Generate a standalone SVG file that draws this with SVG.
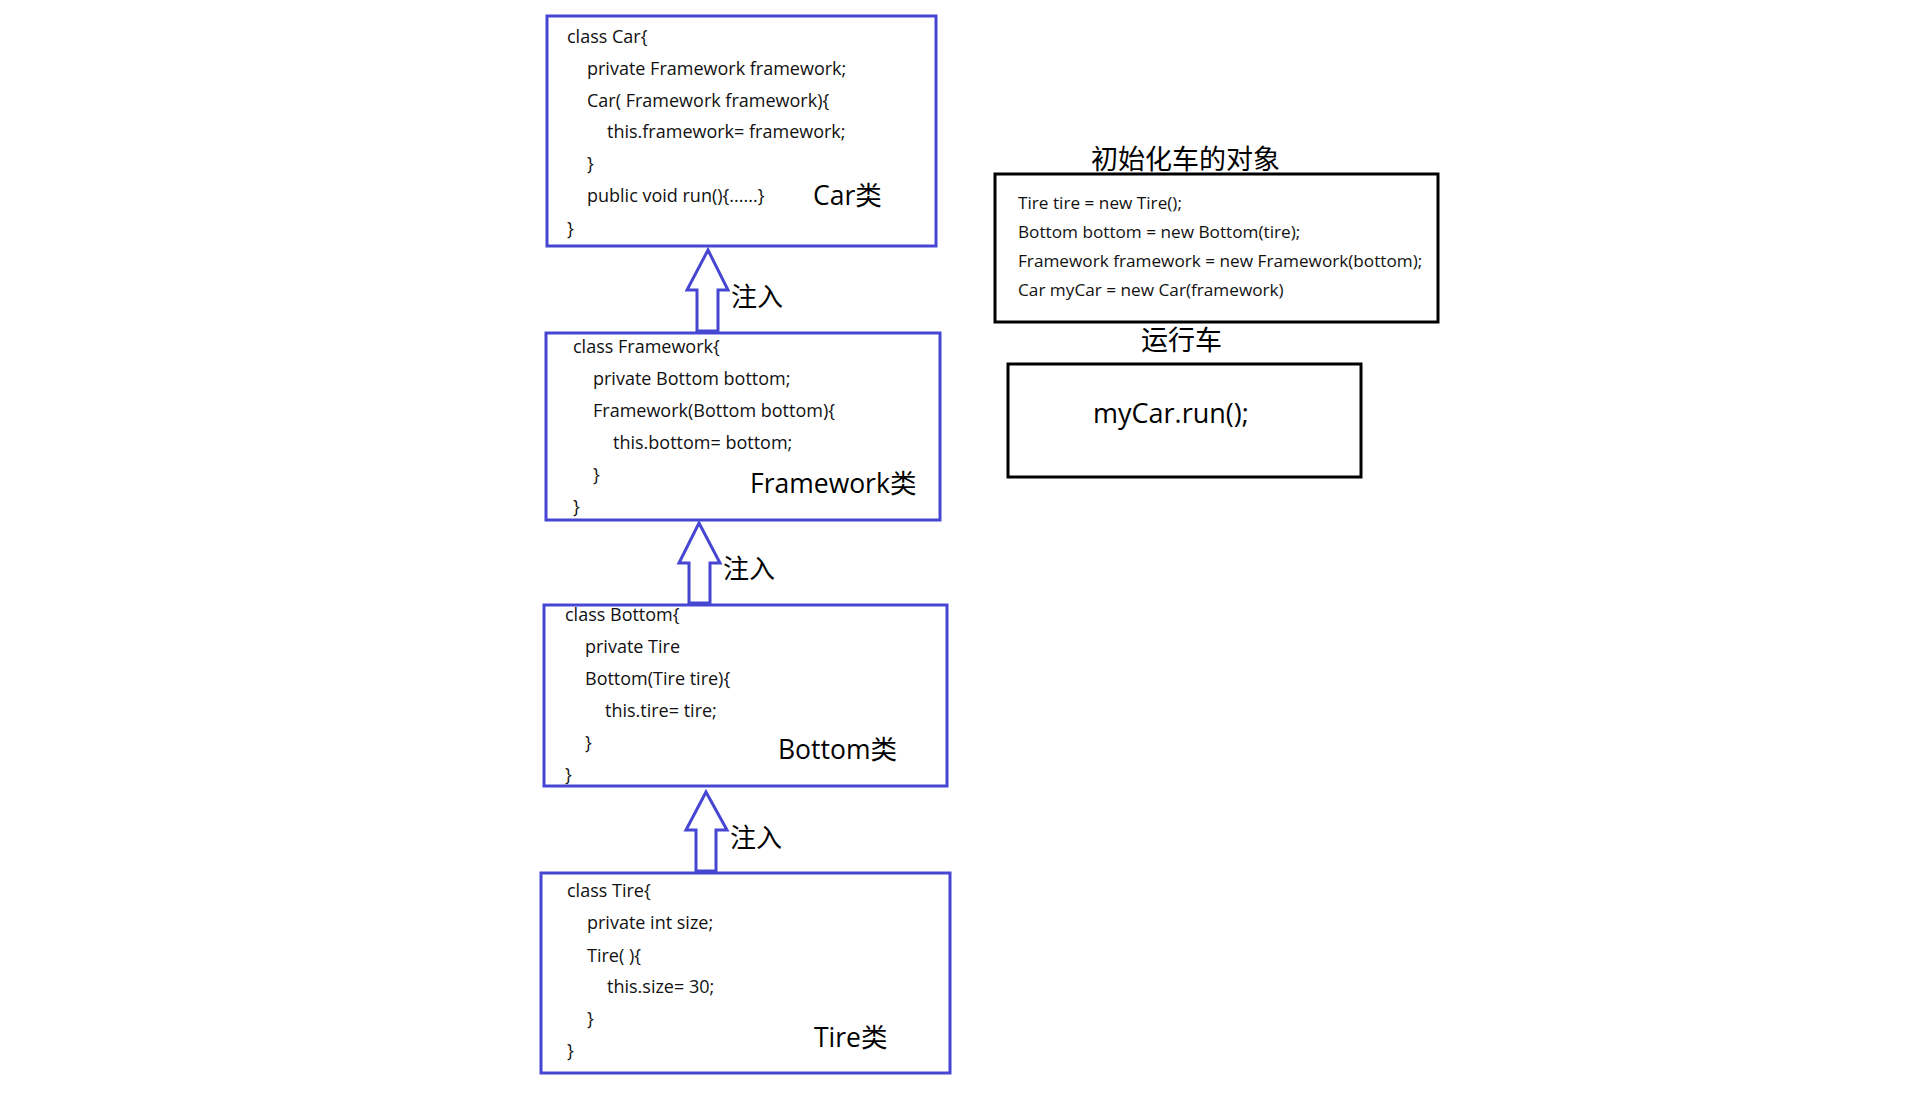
<svg xmlns="http://www.w3.org/2000/svg" width="1920" height="1118" viewBox="0 0 1920 1118">
<style>
.bbox{fill:none;stroke:#4646D2;stroke-width:3}
.kbox{fill:none;stroke:#000;stroke-width:3}
.arr{fill:#fff;stroke:#4646D2;stroke-width:3;stroke-linejoin:miter}
.code{font-family:"Open Sans","Noto Sans CJK SC",sans-serif;font-size:18px;fill:#111}
.code2{font-family:"Open Sans","Noto Sans CJK SC",sans-serif;font-size:17.2px;fill:#111}
.lbl{font-family:"Open Sans","Noto Sans CJK SC",sans-serif;font-size:26.5px;fill:#000}
.cjk{font-family:"Noto Sans CJK SC",sans-serif;font-size:26px;fill:#000}
.ttl{font-family:"Noto Sans CJK SC",sans-serif;font-size:27px;fill:#000}
</style>
<rect width="1920" height="1118" fill="#fff"/>
<g id="car">
<rect class="bbox" x="547" y="16" width="389" height="230"/>
<text class="code" x="567" y="43">class Car{</text>
<text class="code" x="587" y="75">private Framework framework;</text>
<text class="code" x="587" y="107">Car( Framework framework){</text>
<text class="code" x="607" y="138">this.framework= framework;</text>
<text class="code" x="587" y="170">}</text>
<text class="code" x="587" y="202">public void run(){......}</text>
<text class="code" x="567" y="235">}</text>
<text class="lbl" x="813" y="205">Car类</text>
</g>
<g id="framework">
<rect class="bbox" x="546" y="333" width="394" height="187"/>
<text class="code" x="573" y="353">class Framework{</text>
<text class="code" x="593" y="385">private Bottom bottom;</text>
<text class="code" x="593" y="417">Framework(Bottom bottom){</text>
<text class="code" x="613" y="449">this.bottom= bottom;</text>
<text class="code" x="593" y="481">}</text>
<text class="code" x="573" y="513">}</text>
<text class="lbl" x="750" y="493">Framework类</text>
</g>
<g id="bottom">
<rect class="bbox" x="544" y="605" width="403" height="181"/>
<text class="code" x="565" y="621">class Bottom{</text>
<text class="code" x="585" y="653">private Tire</text>
<text class="code" x="585" y="685">Bottom(Tire tire){</text>
<text class="code" x="605" y="717">this.tire= tire;</text>
<text class="code" x="585" y="749">}</text>
<text class="code" x="565" y="781">}</text>
<text class="lbl" x="778" y="759">Bottom类</text>
</g>
<g id="tire">
<rect class="bbox" x="541" y="873" width="409" height="200"/>
<text class="code" x="567" y="897">class Tire{</text>
<text class="code" x="587" y="929">private int size;</text>
<text class="code" x="587" y="962">Tire( ){</text>
<text class="code" x="607" y="993">this.size= 30;</text>
<text class="code" x="587" y="1025">}</text>
<text class="code" x="567" y="1057">}</text>
<text class="lbl" x="814" y="1047">Tire类</text>
</g>
<g id="init">
<text class="ttl" x="1091" y="169">初始化车的对象</text>
<rect class="kbox" x="995" y="174" width="443" height="148"/>
<text class="code2" x="1018" y="209">Tire tire = new Tire();</text>
<text class="code2" x="1018" y="238">Bottom bottom = new Bottom(tire);</text>
<text class="code2" x="1018" y="267">Framework framework = new Framework(bottom);</text>
<text class="code2" x="1018" y="296">Car myCar = new Car(framework)</text>
</g>
<g id="run">
<text class="ttl" x="1141" y="350">运行车</text>
<rect class="kbox" x="1008" y="364" width="353" height="113"/>
<text class="lbl" x="1093" y="423" style="font-size:27px">myCar.run();</text>
</g>
<g id="connectors">
<polygon class="arr" points="708,250 728,290 718,290 718,331 697,331 697,290 687,290"/>
<text class="cjk" x="731" y="306">注入</text>
<polygon class="arr" points="699,523 720,563 710,563 710,603 689,603 689,563 679,563"/>
<text class="cjk" x="723" y="578">注入</text>
<polygon class="arr" points="706,792 727,830 716,830 716,871 696,871 696,830 686,830"/>
<text class="cjk" x="730" y="847">注入</text>
</g>
</svg>
